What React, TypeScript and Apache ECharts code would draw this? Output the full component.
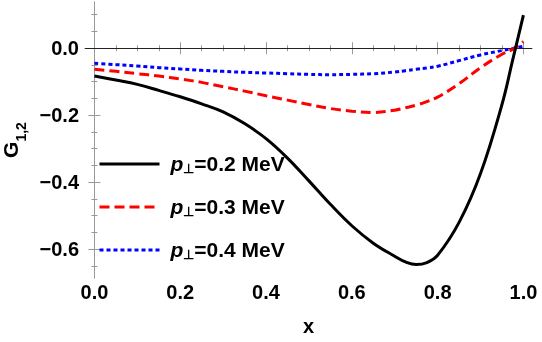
import React, { useEffect, useRef } from "react";
import * as echarts from "echarts";

const xValues = [0, 0.05, 0.1, 0.15, 0.2, 0.25, 0.3, 0.35, 0.4, 0.45, 0.5, 0.55, 0.6, 0.65, 0.7, 0.725, 0.75, 0.775, 0.8, 0.85, 0.9, 0.95, 0.975, 1.0];
const g02 = [-0.083, -0.095, -0.108, -0.126, -0.145, -0.166, -0.19, -0.225, -0.27, -0.328, -0.396, -0.466, -0.53, -0.582, -0.621, -0.638, -0.646, -0.64, -0.618, -0.52, -0.374, -0.168, -0.035, 0.099];
const g03 = [-0.063, -0.069, -0.076, -0.083, -0.092, -0.102, -0.115, -0.128, -0.142, -0.155, -0.168, -0.18, -0.188, -0.192, -0.185, -0.178, -0.17, -0.159, -0.146, -0.106, -0.058, -0.018, -0.003, 0.02];
const g04 = [-0.045, -0.049, -0.053, -0.058, -0.062, -0.066, -0.069, -0.072, -0.074, -0.076, -0.078, -0.079, -0.078, -0.076, -0.071, -0.067, -0.063, -0.059, -0.054, -0.037, -0.02, -0.007, -0.001, 0.006];
const seriesNames = ["p⊥=0.2 MeV", "p⊥=0.3 MeV", "p⊥=0.4 MeV"];

const xMajorTicks = [0, 0.2, 0.4, 0.6, 0.8, 1.0];
const xMinorTicks = [0.05, 0.1, 0.15, 0.25, 0.3, 0.35, 0.45, 0.5, 0.55, 0.65, 0.7, 0.75, 0.85, 0.9, 0.95];
const yMajorTicks = [-0.6, -0.4, -0.2, 0];
const yMinorTicks = [-0.65, -0.55, -0.5, -0.45, -0.35, -0.3, -0.25, -0.15, -0.1, -0.05, 0.05, 0.1];

const X_MIN = -0.022;
const X_MAX = 1.02;
const Y_MIN = -0.686;
const Y_MAX = 0.138;

const FRAME = "#999999";
const FONT = "Liberation Sans, Arial, sans-serif";

function fmt(v: number) {
  const s = Math.abs(v).toFixed(1);
  return v < -1e-9 ? "\u2212" + s : s;
}

export default function App() {
  const ref = useRef<HTMLDivElement>(null);
  useEffect(() => {
    if (!ref.current) return;
    const chart = echarts.init(ref.current, null, { renderer: "svg" });
    const zip = (ys: number[]) => xValues.map((x, i) => [x, ys[i]]);

    const xAxisBase = (extra: any) => ({
      type: "value",
      min: X_MIN,
      max: X_MAX,
      splitLine: { show: false },
      ...extra,
    });
    const yAxisBase = (extra: any) => ({
      type: "value",
      min: Y_MIN,
      max: Y_MAX,
      splitLine: { show: false },
      ...extra,
    });

    const labelStyle = { color: "#000", fontFamily: FONT, fontWeight: "bold", fontSize: 20 };

    chart.setOption({
      animation: false,
      grid: { left: 85, right: 10, top: 2, bottom: 64, containLabel: false, outerBoundsMode: "none" },
      xAxis: [
        xAxisBase({
          position: "bottom",
          name: "x",
          nameLocation: "middle",
          nameGap: 38,
          nameTextStyle: { ...labelStyle },
          axisLine: { show: true, lineStyle: { color: FRAME, width: 1 } },
          axisTick: { show: true, inside: true, length: 6, customValues: xMajorTicks, lineStyle: { color: FRAME } },
          axisLabel: { show: true, customValues: xMajorTicks, formatter: fmt, margin: 4, ...labelStyle },
        }),
        xAxisBase({
          position: "bottom",
          axisLine: { show: false },
          axisTick: { show: true, inside: true, length: 3, customValues: xMinorTicks, lineStyle: { color: FRAME } },
          axisLabel: { show: false },
        }),
        xAxisBase({
          position: "top",
          axisLine: { show: true, lineStyle: { color: FRAME, width: 1 } },
          axisTick: { show: true, inside: true, length: 6, customValues: xMajorTicks, lineStyle: { color: FRAME } },
          axisLabel: { show: false },
        }),
        xAxisBase({
          position: "top",
          axisLine: { show: false },
          axisTick: { show: true, inside: true, length: 3, customValues: xMinorTicks, lineStyle: { color: FRAME } },
          axisLabel: { show: false },
        }),
      ],
      yAxis: [
        yAxisBase({
          position: "left",
          name: "{g|G}{s|1,2}",
          nameLocation: "middle",
          nameRotate: 90,
          nameGap: 57,
          nameTextStyle: {
            rich: {
              g: { ...labelStyle, fontSize: 21, lineHeight: 28, verticalAlign: "top" },
              s: { ...labelStyle, fontSize: 14, lineHeight: 14, verticalAlign: "bottom" },
            },
          },
          axisLine: { show: true, lineStyle: { color: FRAME, width: 1 } },
          axisTick: { show: true, inside: true, length: 6, customValues: yMajorTicks, lineStyle: { color: FRAME } },
          axisLabel: { show: true, customValues: yMajorTicks, formatter: fmt, margin: 6, ...labelStyle },
        }),
        yAxisBase({
          position: "left",
          axisLine: { show: false },
          axisTick: { show: true, inside: true, length: 3, customValues: yMinorTicks, lineStyle: { color: FRAME } },
          axisLabel: { show: false },
        }),
        yAxisBase({
          position: "right",
          axisLine: { show: true, lineStyle: { color: FRAME, width: 1 } },
          axisTick: { show: true, inside: true, length: 6, customValues: yMajorTicks, lineStyle: { color: FRAME } },
          axisLabel: { show: false },
        }),
        yAxisBase({
          position: "right",
          axisLine: { show: false },
          axisTick: { show: true, inside: true, length: 3, customValues: yMinorTicks, lineStyle: { color: FRAME } },
          axisLabel: { show: false },
        }),
      ],
      legend: {
        orient: "vertical",
        left: 98,
        top: 153,
        padding: 0,
        itemWidth: 60,
        itemHeight: 22,
        itemGap: 21,
        data: seriesNames,
        itemStyle: { opacity: 0 },
        lineStyle: { width: 3 },
        formatter: (name: string) => `{p|p}{s|⊥}{t|${name.replace("p⊥", "")}}`,
        textStyle: {
          rich: {
            p: { ...labelStyle, fontSize: 21, fontStyle: "italic", lineHeight: 22, verticalAlign: "top", padding: [0, 0, 0, 6] },
            s: { ...labelStyle, fontSize: 13, lineHeight: 13, verticalAlign: "bottom" },
            t: { ...labelStyle, fontSize: 21, lineHeight: 22, verticalAlign: "top" },
          },
        },
      },
      series: [
        {
          name: seriesNames[0],
          type: "line",
          data: zip(g02),
          smooth: 0.4,
          symbol: "none",
          z: 5,
          lineStyle: { color: "#000000", width: 3, type: "solid" },
          itemStyle: { color: "#000000" },
          markLine: {
            silent: true,
            symbol: "none",
            label: { show: false },
            lineStyle: { color: "#222", width: 1, type: "solid" },
            data: [{ yAxis: 0 }],
            z: 1,
          },
        },
        {
          name: seriesNames[1],
          type: "line",
          data: zip(g03),
          smooth: 0.4,
          symbol: "none",
          z: 4,
          lineStyle: { color: "#ff0000", width: 3, type: [10, 5] },
          itemStyle: { color: "#ff0000" },
        },
        {
          name: seriesNames[2],
          type: "line",
          data: zip(g04),
          smooth: 0.4,
          symbol: "none",
          z: 3,
          lineStyle: { color: "#0000ff", width: 3, type: [4, 3] },
          itemStyle: { color: "#0000ff" },
        },
      ],
    });
    return () => chart.dispose();
  }, []);
  return <div ref={ref} style={{ position: "fixed", left: 0, top: 0, width: 542, height: 342 }} />;
}
